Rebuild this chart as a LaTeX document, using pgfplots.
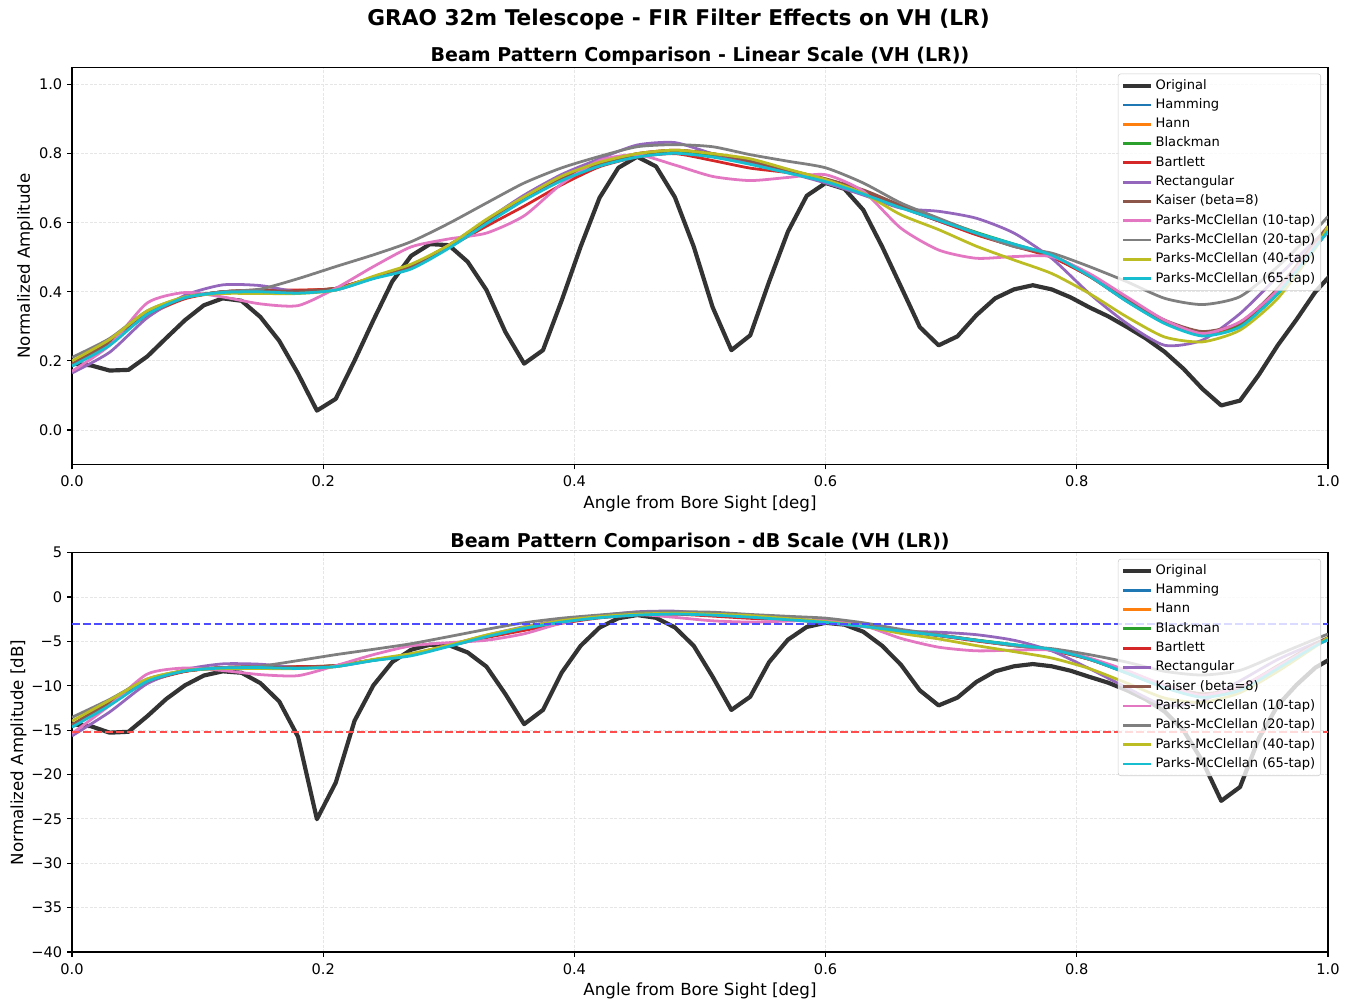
\documentclass[border=0pt]{standalone}
\usepackage{fontspec}
\setmainfont{DejaVu Sans}
\usepackage{pgfplots}
\usepackage{pgfplotstable}
\pgfplotsset{compat=1.18}

\definecolor{cOrig}{HTML}{333333}
\definecolor{cHam}{HTML}{1F77B4}
\definecolor{cHann}{HTML}{FF7F0E}
\definecolor{cBlack}{HTML}{2CA02C}
\definecolor{cBart}{HTML}{D62728}
\definecolor{cRect}{HTML}{9467BD}
\definecolor{cKais}{HTML}{8C564B}
\definecolor{cPmA}{HTML}{E377C2}
\definecolor{cPmB}{HTML}{7F7F7F}
\definecolor{cPmC}{HTML}{BCBD22}
\definecolor{cPmD}{HTML}{17BECF}
\definecolor{cGrid}{HTML}{E6E6E6}
\definecolor{cHalfB}{HTML}{4D4DFF}
\definecolor{cHalfR}{HTML}{FF4D4D}

\pgfplotstableread{
x v db
0.000 0.192 -14.33
0.015 0.187 -14.56
0.030 0.172 -15.29
0.045 0.174 -15.19
0.060 0.213 -13.43
0.075 0.266 -11.50
0.090 0.318 -9.95
0.105 0.361 -8.85
0.120 0.381 -8.38
0.135 0.374 -8.54
0.150 0.327 -9.71
0.165 0.258 -11.77
0.180 0.163 -15.76
0.195 0.056 -25.04
0.210 0.090 -20.92
0.225 0.201 -13.94
0.240 0.318 -9.95
0.255 0.430 -7.33
0.270 0.504 -5.95
0.285 0.538 -5.38
0.300 0.535 -5.43
0.315 0.487 -6.25
0.330 0.405 -7.85
0.345 0.284 -10.93
0.360 0.192 -14.33
0.375 0.231 -12.73
0.390 0.376 -8.50
0.405 0.531 -5.50
0.420 0.672 -3.45
0.435 0.759 -2.40
0.450 0.791 -2.04
0.465 0.763 -2.35
0.480 0.674 -3.43
0.495 0.531 -5.50
0.510 0.356 -8.97
0.525 0.231 -12.73
0.540 0.274 -11.24
0.555 0.429 -7.35
0.570 0.574 -4.82
0.585 0.678 -3.38
0.600 0.715 -2.91
0.615 0.698 -3.12
0.630 0.637 -3.92
0.645 0.531 -5.50
0.660 0.415 -7.64
0.675 0.298 -10.52
0.690 0.245 -12.22
0.705 0.271 -11.34
0.720 0.332 -9.58
0.735 0.381 -8.38
0.750 0.407 -7.81
0.765 0.419 -7.56
0.780 0.407 -7.81
0.795 0.384 -8.31
0.810 0.355 -9.00
0.825 0.329 -9.66
0.840 0.298 -10.52
0.855 0.265 -11.54
0.870 0.226 -12.92
0.885 0.177 -15.04
0.900 0.119 -18.49
0.915 0.071 -22.97
0.930 0.085 -21.41
0.945 0.160 -15.92
0.960 0.245 -12.22
0.975 0.320 -9.90
0.990 0.400 -7.96
1.005 0.460 -6.74
}\orig

\pgfplotstableread{
x ham hann black bart rect kais pmA pmB pmC pmD
0.00 0.185 0.19 0.19 0.19 0.165 0.19 0.17 0.21 0.20 0.185
0.03 0.25 0.255 0.255 0.255 0.225 0.255 0.245 0.265 0.262 0.245
0.06 0.335 0.335 0.335 0.332 0.325 0.335 0.368 0.345 0.345 0.335
0.09 0.382 0.382 0.382 0.38 0.39 0.382 0.398 0.385 0.385 0.383
0.12 0.40 0.40 0.40 0.40 0.42 0.40 0.385 0.40 0.395 0.398
0.15 0.403 0.403 0.403 0.405 0.418 0.403 0.365 0.408 0.395 0.40
0.18 0.402 0.404 0.402 0.405 0.40 0.402 0.36 0.438 0.395 0.396
0.21 0.41 0.41 0.41 0.41 0.405 0.41 0.41 0.473 0.405 0.405
0.24 0.44 0.442 0.44 0.442 0.44 0.442 0.473 0.507 0.445 0.438
0.27 0.472 0.475 0.472 0.475 0.475 0.475 0.53 0.545 0.48 0.466
0.30 0.53 0.535 0.532 0.53 0.535 0.535 0.553 0.598 0.535 0.526
0.33 0.60 0.603 0.60 0.59 0.608 0.603 0.57 0.657 0.61 0.597
0.36 0.668 0.67 0.668 0.648 0.68 0.67 0.62 0.715 0.675 0.665
0.39 0.725 0.728 0.725 0.71 0.74 0.728 0.713 0.759 0.735 0.722
0.42 0.768 0.772 0.768 0.762 0.785 0.772 0.78 0.792 0.775 0.764
0.45 0.795 0.80 0.797 0.79 0.825 0.80 0.797 0.82 0.80 0.79
0.48 0.805 0.81 0.807 0.80 0.832 0.81 0.767 0.826 0.81 0.801
0.51 0.795 0.80 0.797 0.78 0.80 0.80 0.734 0.82 0.80 0.79
0.54 0.772 0.778 0.775 0.758 0.775 0.778 0.722 0.797 0.785 0.769
0.57 0.747 0.752 0.75 0.745 0.745 0.752 0.731 0.778 0.755 0.744
0.60 0.722 0.727 0.725 0.725 0.715 0.727 0.739 0.759 0.725 0.719
0.63 0.687 0.69 0.69 0.69 0.68 0.695 0.691 0.715 0.685 0.683
0.66 0.645 0.648 0.648 0.645 0.642 0.65 0.584 0.657 0.623 0.643
0.69 0.605 0.61 0.61 0.605 0.633 0.61 0.521 0.613 0.58 0.607
0.72 0.568 0.57 0.572 0.565 0.613 0.568 0.497 0.57 0.532 0.57
0.75 0.535 0.535 0.538 0.532 0.57 0.532 0.502 0.531 0.492 0.538
0.78 0.502 0.502 0.505 0.50 0.497 0.505 0.502 0.512 0.453 0.506
0.81 0.445 0.445 0.45 0.445 0.395 0.45 0.453 0.473 0.395 0.446
0.84 0.372 0.375 0.378 0.375 0.308 0.38 0.385 0.429 0.327 0.372
0.87 0.31 0.312 0.315 0.312 0.245 0.318 0.318 0.381 0.269 0.308
0.90 0.276 0.28 0.283 0.28 0.26 0.285 0.279 0.363 0.255 0.272
0.93 0.30 0.305 0.305 0.31 0.337 0.31 0.313 0.386 0.289 0.298
0.96 0.395 0.40 0.395 0.405 0.444 0.41 0.405 0.473 0.381 0.395
0.99 0.53 0.54 0.535 0.54 0.55 0.545 0.536 0.579 0.526 0.53
1.00 0.575 0.585 0.58 0.585 0.584 0.59 0.57 0.618 0.59 0.575
}\filtlin

\pgfplotstableread{
x ham hann black bart rect kais pmA pmB pmC pmD
0.00 -14.66 -14.43 -14.43 -14.43 -15.65 -14.43 -15.39 -13.56 -13.98 -14.66
0.03 -12.04 -11.87 -11.87 -11.87 -12.96 -11.87 -12.22 -11.54 -11.63 -12.22
0.06 -9.50 -9.50 -9.50 -9.58 -9.76 -9.50 -8.68 -9.24 -9.24 -9.50
0.09 -8.36 -8.36 -8.36 -8.40 -8.18 -8.36 -8.00 -8.29 -8.29 -8.34
0.12 -7.96 -7.96 -7.96 -7.96 -7.54 -7.96 -8.29 -7.96 -8.07 -8.00
0.15 -7.89 -7.89 -7.89 -7.85 -7.58 -7.89 -8.75 -7.79 -8.07 -7.96
0.18 -7.92 -7.87 -7.92 -7.85 -7.96 -7.92 -8.87 -7.17 -8.07 -8.05
0.21 -7.74 -7.74 -7.74 -7.74 -7.85 -7.74 -7.74 -6.50 -7.85 -7.85
0.24 -7.13 -7.09 -7.13 -7.09 -7.13 -7.09 -6.50 -5.90 -7.03 -7.17
0.27 -6.52 -6.47 -6.52 -6.47 -6.47 -6.47 -5.51 -5.27 -6.38 -6.63
0.30 -5.51 -5.43 -5.48 -5.51 -5.43 -5.43 -5.15 -4.47 -5.43 -5.58
0.33 -4.44 -4.40 -4.44 -4.58 -4.32 -4.40 -4.88 -3.65 -4.29 -4.48
0.36 -3.50 -3.48 -3.50 -3.77 -3.35 -3.48 -4.15 -2.91 -3.41 -3.54
0.39 -2.79 -2.76 -2.79 -2.97 -2.62 -2.76 -2.94 -2.39 -2.67 -2.83
0.42 -2.29 -2.25 -2.29 -2.36 -2.10 -2.25 -2.16 -2.03 -2.21 -2.34
0.45 -1.99 -1.94 -1.97 -2.05 -1.67 -1.94 -1.97 -1.72 -1.94 -2.05
0.48 -1.88 -1.83 -1.86 -1.94 -1.60 -1.83 -2.30 -1.66 -1.83 -1.93
0.51 -1.99 -1.94 -1.97 -2.16 -1.94 -1.94 -2.69 -1.72 -1.94 -2.05
0.54 -2.25 -2.18 -2.21 -2.41 -2.21 -2.18 -2.83 -1.97 -2.10 -2.28
0.57 -2.53 -2.48 -2.50 -2.56 -2.56 -2.48 -2.72 -2.18 -2.44 -2.57
0.60 -2.83 -2.77 -2.79 -2.79 -2.91 -2.77 -2.63 -2.39 -2.79 -2.87
0.63 -3.26 -3.22 -3.22 -3.22 -3.35 -3.16 -3.21 -2.91 -3.29 -3.31
0.66 -3.81 -3.77 -3.77 -3.81 -3.85 -3.74 -4.67 -3.65 -4.11 -3.84
0.69 -4.36 -4.29 -4.29 -4.36 -3.97 -4.29 -5.66 -4.25 -4.73 -4.34
0.72 -4.91 -4.88 -4.85 -4.96 -4.25 -4.91 -6.07 -4.88 -5.48 -4.88
0.75 -5.43 -5.43 -5.38 -5.48 -4.88 -5.48 -5.99 -5.50 -6.16 -5.38
0.78 -5.99 -5.99 -5.93 -6.02 -6.07 -5.93 -5.99 -5.82 -6.88 -5.92
0.81 -7.03 -7.03 -6.94 -7.03 -8.07 -6.94 -6.88 -6.50 -8.07 -7.01
0.84 -8.59 -8.52 -8.45 -8.52 -10.23 -8.40 -8.29 -7.35 -9.71 -8.59
0.87 -10.17 -10.12 -10.03 -10.12 -12.22 -9.95 -9.95 -8.38 -11.40 -10.23
0.90 -11.18 -11.06 -10.96 -11.06 -11.70 -10.90 -11.09 -8.80 -11.87 -11.31
0.93 -10.46 -10.31 -10.31 -10.17 -9.45 -10.17 -10.09 -8.27 -10.78 -10.52
0.96 -8.07 -7.96 -8.07 -7.85 -7.05 -7.74 -7.85 -6.50 -8.38 -8.07
0.99 -5.51 -5.35 -5.43 -5.35 -5.19 -5.27 -5.42 -4.75 -5.58 -5.51
1.00 -4.81 -4.66 -4.73 -4.66 -4.67 -4.58 -4.88 -4.18 -4.58 -4.81
}\filtdb

\pgfplotsset{
  myax/.style={
    scale only axis, width=904.3pt,
    xmin=0, xmax=1,
    tick pos=left, tick align=outside,
    major tick length=3.5pt,
    every tick/.style={black, line width=0.8pt},
    axis line style={line width=0.8pt, black},
    grid=major,
    major grid style={cGrid, line width=0.6pt, dash pattern=on 2.2pt off 1pt},
    ticklabel style={font=\fontsize{10.5}{12.5}\selectfont},
    label style={font=\fontsize{12}{14}\selectfont},
    title style={font=\bfseries\fontsize{13.7}{16}\selectfont, at={(axis description cs:0.5,1)}, anchor=base, yshift=-2pt},
    xtick={0,0.2,0.4,0.6,0.8,1.0},
    xticklabels={0.0,0.2,0.4,0.6,0.8,1.0},
    xticklabel style={anchor=base, yshift=-12.5pt},
    xlabel={Angle from Bore Sight [deg]},
    xlabel style={at={(axis description cs:0.5,0)}, anchor=base, yshift=-31.5pt},
    legend cell align=left,
    legend style={at={(1,1)}, anchor=north east, xshift=-5pt, yshift=-4.5pt,
      font=\fontsize{9.4}{11}\selectfont, draw=black!20,
      rounded corners=2pt, fill=white, fill opacity=0.8, text opacity=1, draw opacity=1,
      inner xsep=2pt, inner ysep=2pt, row sep=0.9pt,
      nodes={inner sep=2pt, text height=7pt, text depth=2pt}},
    legend image code/.code={\draw[#1, line cap=butt] (0pt,0pt) -- (20pt,0pt);},
    every axis plot/.append style={line join=round},
  },
}

\begin{document}
\begin{tikzpicture}
\useasboundingbox (-51.84pt,-33.12pt) rectangle (923.04pt,685.44pt);

\node[font=\bfseries\fontsize{15.6}{18}\selectfont, anchor=base] at (436.7pt,667.4pt) {GRAO 32m Telescope - FIR Filter Effects on VH (LR)};

\begin{axis}[myax, at={(0pt,351pt)}, anchor=south west, height=286pt,
  ymin=-0.1, ymax=1.05,
  ytick={0,0.2,0.4,0.6,0.8,1.0},
  yticklabels={0.0,0.2,0.4,0.6,0.8,1.0},
  ylabel={Normalized Amplitude},
  ylabel style={at={(axis description cs:-0.0335,0.5)}, anchor=base},
  title={Beam Pattern Comparison - Linear Scale (VH (LR))}]
\addplot[cOrig, line width=3pt] table[x=x, y=v] {\orig};
\addlegendentry{Original}
\addplot[cHam, line width=2pt, smooth, tension=0.4] table[x=x, y=ham] {\filtlin};
\addlegendentry{Hamming}
\addplot[cHann, line width=2pt, smooth, tension=0.4] table[x=x, y=hann] {\filtlin};
\addlegendentry{Hann}
\addplot[cBlack, line width=2pt, smooth, tension=0.4] table[x=x, y=black] {\filtlin};
\addlegendentry{Blackman}
\addplot[cBart, line width=2pt, smooth, tension=0.4] table[x=x, y=bart] {\filtlin};
\addlegendentry{Bartlett}
\addplot[cRect, line width=2pt, smooth, tension=0.4] table[x=x, y=rect] {\filtlin};
\addlegendentry{Rectangular}
\addplot[cKais, line width=2pt, smooth, tension=0.4] table[x=x, y=kais] {\filtlin};
\addlegendentry{Kaiser (beta=8)}
\addplot[cPmA, line width=2pt, smooth, tension=0.4] table[x=x, y=pmA] {\filtlin};
\addlegendentry{Parks-McClellan (10-tap)}
\addplot[cPmB, line width=2pt, smooth, tension=0.4] table[x=x, y=pmB] {\filtlin};
\addlegendentry{Parks-McClellan (20-tap)}
\addplot[cPmC, line width=2pt, smooth, tension=0.4] table[x=x, y=pmC] {\filtlin};
\addlegendentry{Parks-McClellan (40-tap)}
\addplot[cPmD, line width=2pt, smooth, tension=0.4] table[x=x, y=pmD] {\filtlin};
\addlegendentry{Parks-McClellan (65-tap)}
\end{axis}

\begin{axis}[myax, at={(0pt,0pt)}, anchor=south west, height=287.6pt,
  ymin=-40, ymax=5,
  ytick={-40,-35,-30,-25,-20,-15,-10,-5,0,5},
  yticklabels={−40,−35,−30,−25,−20,−15,−10,−5,0,5},
  ylabel={Normalized Amplitude [dB]},
  ylabel style={at={(axis description cs:-0.039,0.5)}, anchor=base},
  title={Beam Pattern Comparison - dB Scale (VH (LR))}]
\addplot[cOrig, line width=3pt] table[x=x, y=db] {\orig};
\addlegendentry{Original}
\addplot[cHam, line width=2pt, smooth, tension=0.4] table[x=x, y=ham] {\filtdb};
\addlegendentry{Hamming}
\addplot[cHann, line width=2pt, smooth, tension=0.4] table[x=x, y=hann] {\filtdb};
\addlegendentry{Hann}
\addplot[cBlack, line width=2pt, smooth, tension=0.4] table[x=x, y=black] {\filtdb};
\addlegendentry{Blackman}
\addplot[cBart, line width=2pt, smooth, tension=0.4] table[x=x, y=bart] {\filtdb};
\addlegendentry{Bartlett}
\addplot[cRect, line width=2pt, smooth, tension=0.4] table[x=x, y=rect] {\filtdb};
\addlegendentry{Rectangular}
\addplot[cKais, line width=2pt, smooth, tension=0.4] table[x=x, y=kais] {\filtdb};
\addlegendentry{Kaiser (beta=8)}
\addplot[cPmA, line width=2pt, smooth, tension=0.4] table[x=x, y=pmA] {\filtdb};
\addlegendentry{Parks-McClellan (10-tap)}
\addplot[cPmB, line width=2pt, smooth, tension=0.4] table[x=x, y=pmB] {\filtdb};
\addlegendentry{Parks-McClellan (20-tap)}
\addplot[cPmC, line width=2pt, smooth, tension=0.4] table[x=x, y=pmC] {\filtdb};
\addlegendentry{Parks-McClellan (40-tap)}
\addplot[cPmD, line width=2pt, smooth, tension=0.4] table[x=x, y=pmD] {\filtdb};
\addlegendentry{Parks-McClellan (65-tap)}
\addplot[cHalfB, line width=1.5pt, dash pattern=on 5.5pt off 2.4pt, forget plot] coordinates {(0,-3) (1,-3)};
\addplot[cHalfR, line width=1.5pt, dash pattern=on 5.5pt off 2.4pt, forget plot] coordinates {(0,-15.2) (1,-15.2)};
\end{axis}
\end{tikzpicture}
\end{document}
